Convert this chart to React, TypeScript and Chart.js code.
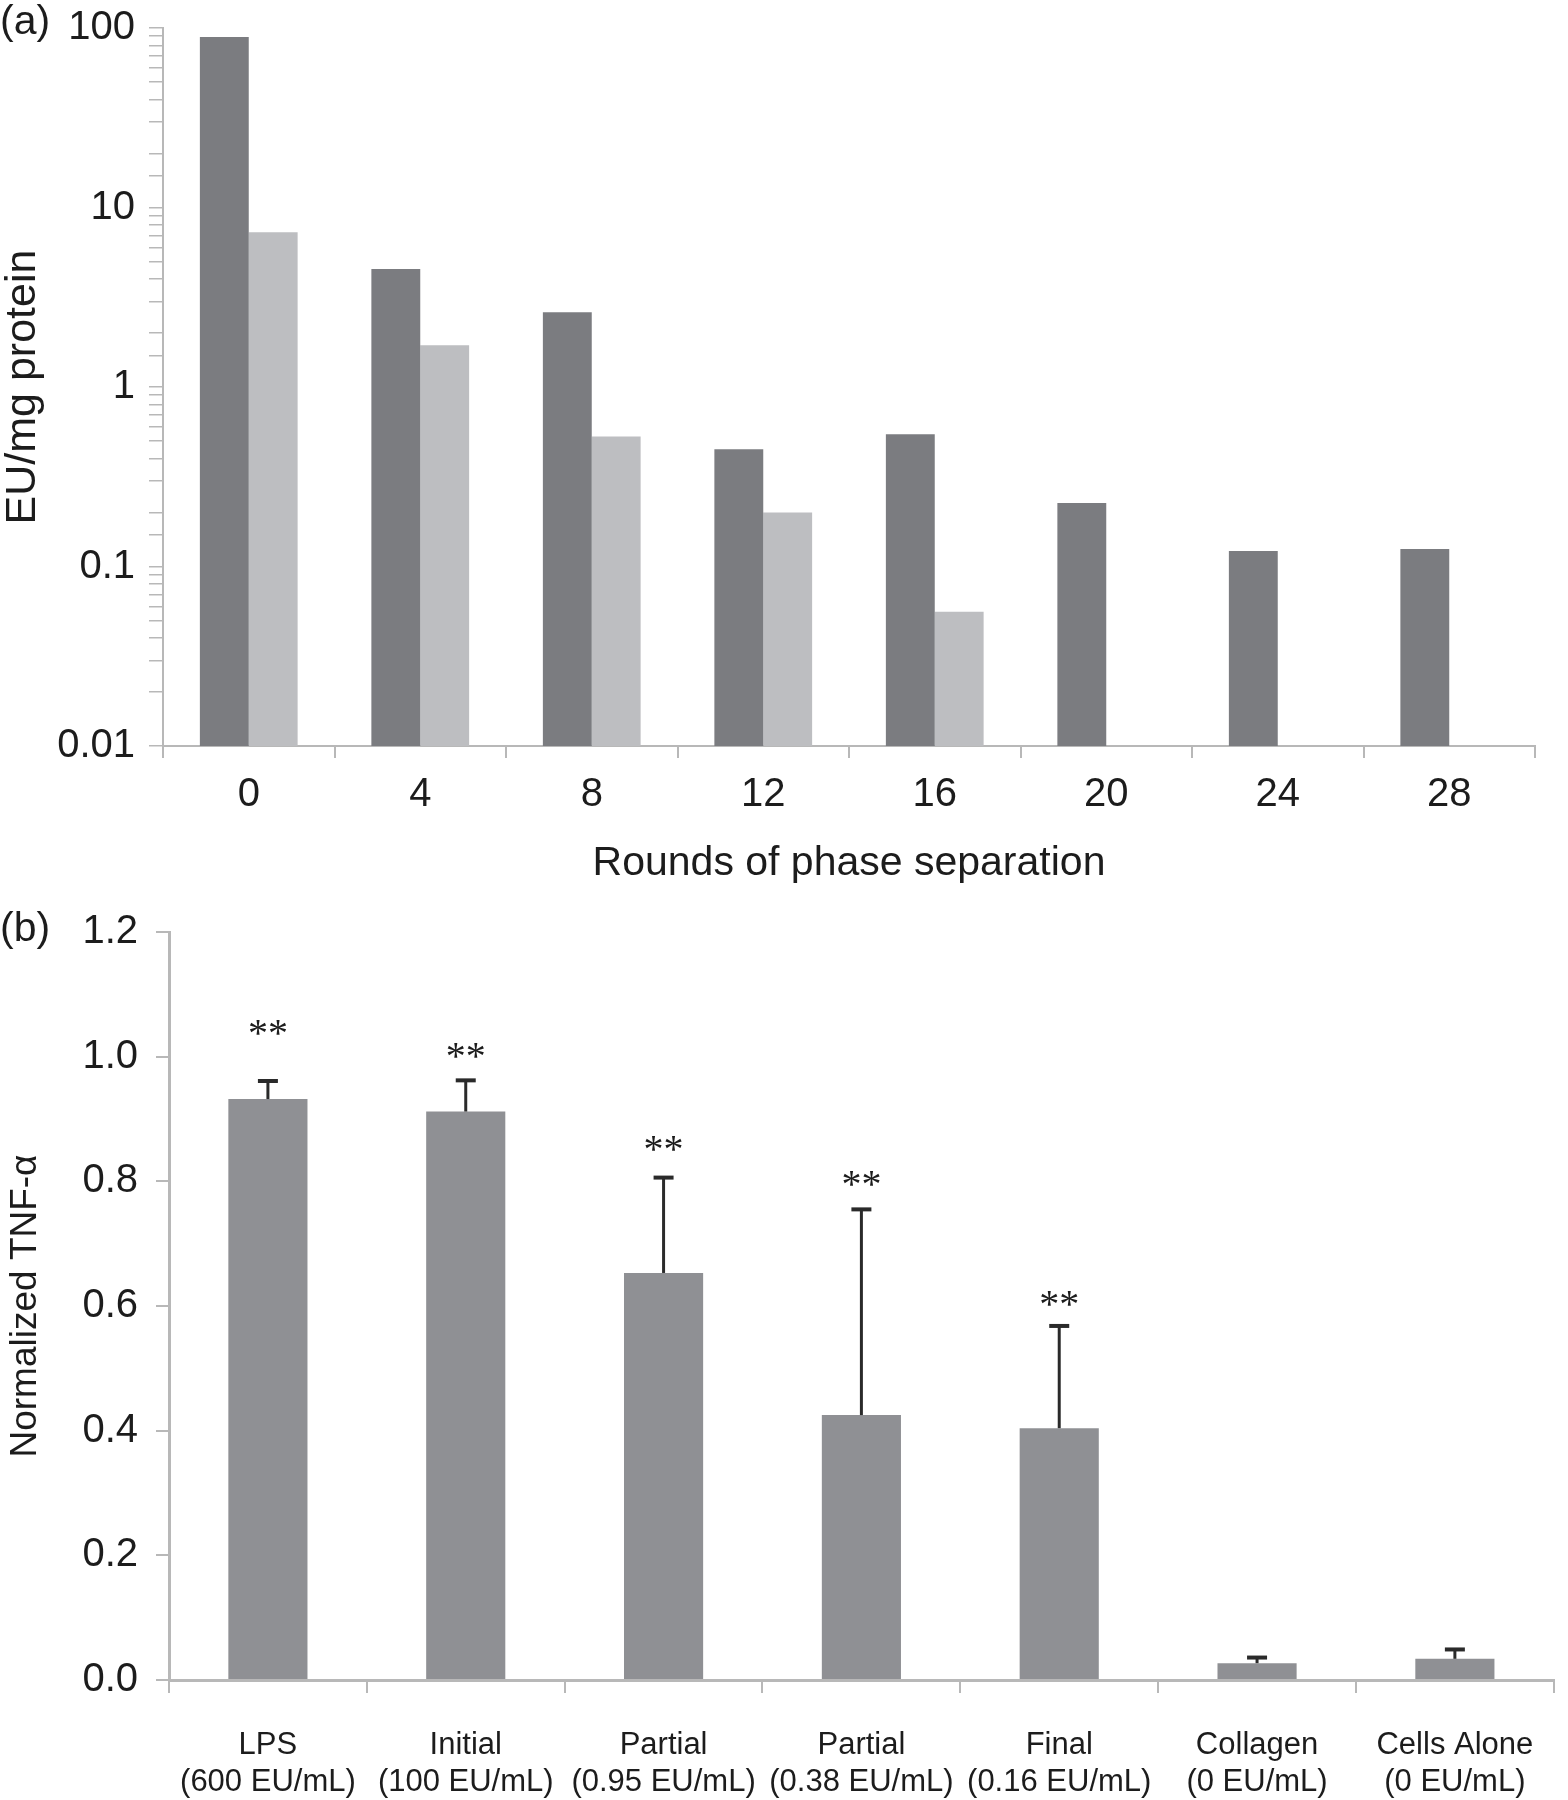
import React, { useEffect, useRef } from 'react';
import { Chart, registerables } from 'chart.js';
Chart.register(...registerables);

// ---------- Panel (a) data ----------
const roundLabels = ['0', '4', '8', '12', '16', '20', '24', '28'];
const seriesDark = [89, 4.55, 2.61, 0.45, 0.545, 0.226, 0.122, 0.125];
const seriesLight: (number | null)[] = [7.27, 1.71, 0.53, 0.2, 0.056, null, null, null];
const logTickLabels = ['0.01', '0.1', '1', '10', '100'];

// ---------- Panel (b) data ----------
const groupLabels = [
  ['LPS', '(600 EU/mL)'],
  ['Initial', '(100 EU/mL)'],
  ['Partial', '(0.95 EU/mL)'],
  ['Partial', '(0.38 EU/mL)'],
  ['Final', '(0.16 EU/mL)'],
  ['Collagen', '(0 EU/mL)'],
  ['Cells Alone', '(0 EU/mL)'],
];
const tnfMeans = [0.932, 0.912, 0.653, 0.425, 0.404, 0.027, 0.034];
const tnfUpper = [0.961, 0.962, 0.806, 0.755, 0.568, 0.036, 0.049];
const sigMarks = ['**', '**', '**', '**', '**', '', ''];
const sigLevels: (number | null)[] = [1.047, 1.01, 0.862, 0.806, 0.613, null, null];

const SANS = "'Liberation Sans', Arial, Helvetica, sans-serif";
const SERIF = "'Liberation Serif', 'Times New Roman', serif";
const TXT = '#1c1c1c';
const AXIS = '#b8b8b8';

function panelLabel(text: string, y: number) {
  return {
    id: 'panelLabel' + text,
    afterDraw(chart: any) {
      const ctx = chart.ctx;
      ctx.save();
      ctx.font = `41px ${SANS}`;
      ctx.fillStyle = TXT;
      ctx.textAlign = 'left';
      ctx.textBaseline = 'middle';
      ctx.fillText(text, 0, y);
      ctx.restore();
    },
  };
}

const errorBarPlugin = {
  id: 'errorBars',
  afterDatasetsDraw(chart: any) {
    const ctx = chart.ctx;
    const meta = chart.getDatasetMeta(0);
    const yScale = chart.scales.y;
    ctx.save();
    ctx.strokeStyle = '#2a2a2a';
    meta.data.forEach((el: any, i: number) => {
      const top = yScale.getPixelForValue(tnfUpper[i]);
      ctx.lineWidth = 3;
      ctx.beginPath();
      ctx.moveTo(el.x, el.y);
      ctx.lineTo(el.x, top);
      ctx.stroke();
      ctx.lineWidth = 4;
      ctx.beginPath();
      ctx.moveTo(el.x - 10, top);
      ctx.lineTo(el.x + 10, top);
      ctx.stroke();
    });
    ctx.font = `40px ${SERIF}`;
    ctx.fillStyle = TXT;
    ctx.textAlign = 'center';
    ctx.textBaseline = 'alphabetic';
    meta.data.forEach((el: any, i: number) => {
      const lvl = sigLevels[i];
      if (lvl == null || !sigMarks[i]) return;
      const py = yScale.getPixelForValue(lvl);
      ctx.fillText(sigMarks[i], el.x, py + 19);
    });
    ctx.restore();
  },
};

export default function App() {
  const topRef = useRef<HTMLCanvasElement>(null);
  const botRef = useRef<HTMLCanvasElement>(null);

  useEffect(() => {
    document.body.style.margin = '0';
    const top = new Chart(topRef.current!, {
      type: 'bar',
      data: {
        labels: roundLabels,
        datasets: [
          { data: seriesDark, backgroundColor: '#7b7c80', borderWidth: 0 },
          { data: seriesLight as any, backgroundColor: '#bdbec1', borderWidth: 0 },
        ],
      },
      options: {
        responsive: false,
        animation: false,
        layout: { padding: { top: 28, right: 33, left: 0, bottom: 0 } },
        plugins: { legend: { display: false }, tooltip: { enabled: false } },
        datasets: { bar: { categoryPercentage: 0.57, barPercentage: 1 } },
        scales: {
          x: {
            grid: { drawOnChartArea: false, tickLength: 12, color: AXIS, lineWidth: 2, offset: true },
            border: { color: AXIS, width: 2 },
            ticks: { font: { size: 40, family: SANS }, color: TXT, padding: 13 },
            title: {
              display: true,
              text: 'Rounds of phase separation',
              font: { size: 41, family: SANS },
              color: TXT,
              padding: { top: 0, bottom: 17 },
            },
            afterFit: (s: any) => { s.height = 159; },
          },
          y: {
            type: 'logarithmic',
            min: 0.01,
            max: 100,
            grid: { drawOnChartArea: false, tickLength: 14, color: AXIS, lineWidth: 1.5 },
            border: { color: AXIS, width: 2 },
            ticks: {
              autoSkip: false,
              font: { size: 40, family: SANS, lineHeight: 0.4 },
              color: TXT,
              padding: 14,
              callback: (v: any) => {
                const l = Math.log10(Number(v));
                const r = Math.round(l);
                return Math.abs(l - r) < 1e-6 ? logTickLabels[r + 2] : '';
              },
            },
            title: {
              display: true,
              text: 'EU/mg protein',
              font: { size: 43, family: SANS, lineHeight: 1 },
              color: TXT,
              padding: { top: 2, bottom: 0 },
            },
            afterFit: (s: any) => { s.width = 163; },
          },
        },
      },
      plugins: [panelLabel('(a)', 23)],
    } as any);

    const bot = new Chart(botRef.current!, {
      type: 'bar',
      data: {
        labels: groupLabels,
        datasets: [{ data: tnfMeans, backgroundColor: '#8f9094', borderWidth: 0 }],
      },
      options: {
        responsive: false,
        animation: false,
        layout: { padding: { top: 27, right: 10, left: 0, bottom: 0 } },
        plugins: { legend: { display: false }, tooltip: { enabled: false } },
        datasets: { bar: { categoryPercentage: 0.4, barPercentage: 1 } },
        scales: {
          x: {
            grid: { drawOnChartArea: false, tickLength: 13, color: AXIS, lineWidth: 2, offset: true },
            border: { color: AXIS, width: 3 },
            ticks: { font: { size: 31, family: SANS, lineHeight: 1.19 }, color: TXT, padding: 34, maxRotation: 0, autoSkip: false },
            afterFit: (s: any) => { s.height = 120; },
          },
          y: {
            min: 0,
            max: 1.2,
            grid: { drawOnChartArea: false, tickLength: 13, color: AXIS, lineWidth: 2 },
            border: { color: AXIS, width: 3 },
            ticks: {
              stepSize: 0.2,
              font: { size: 40, family: SANS, lineHeight: 0.4 },
              color: TXT,
              padding: 18,
              callback: (v: any) => Number(v).toFixed(1),
            },
            title: {
              display: true,
              text: 'Normalized TNF-α',
              font: { size: 37, family: SANS, lineHeight: 1 },
              color: TXT,
              padding: { top: 7, bottom: 0 },
            },
            afterFit: (s: any) => { s.width = 169; },
          },
        },
      },
      plugins: [errorBarPlugin, panelLabel('(b)', 25)],
    } as any);

    return () => { top.destroy(); bot.destroy(); };
  }, []);

  return (
    <div style={{ position: 'absolute', left: 0, top: 0, width: 1568, height: 1800, background: '#fff' }}>
      <canvas ref={topRef} width={1568} height={905} style={{ display: 'block' }} />
      <canvas ref={botRef} width={1568} height={895} style={{ display: 'block' }} />
    </div>
  );
}
